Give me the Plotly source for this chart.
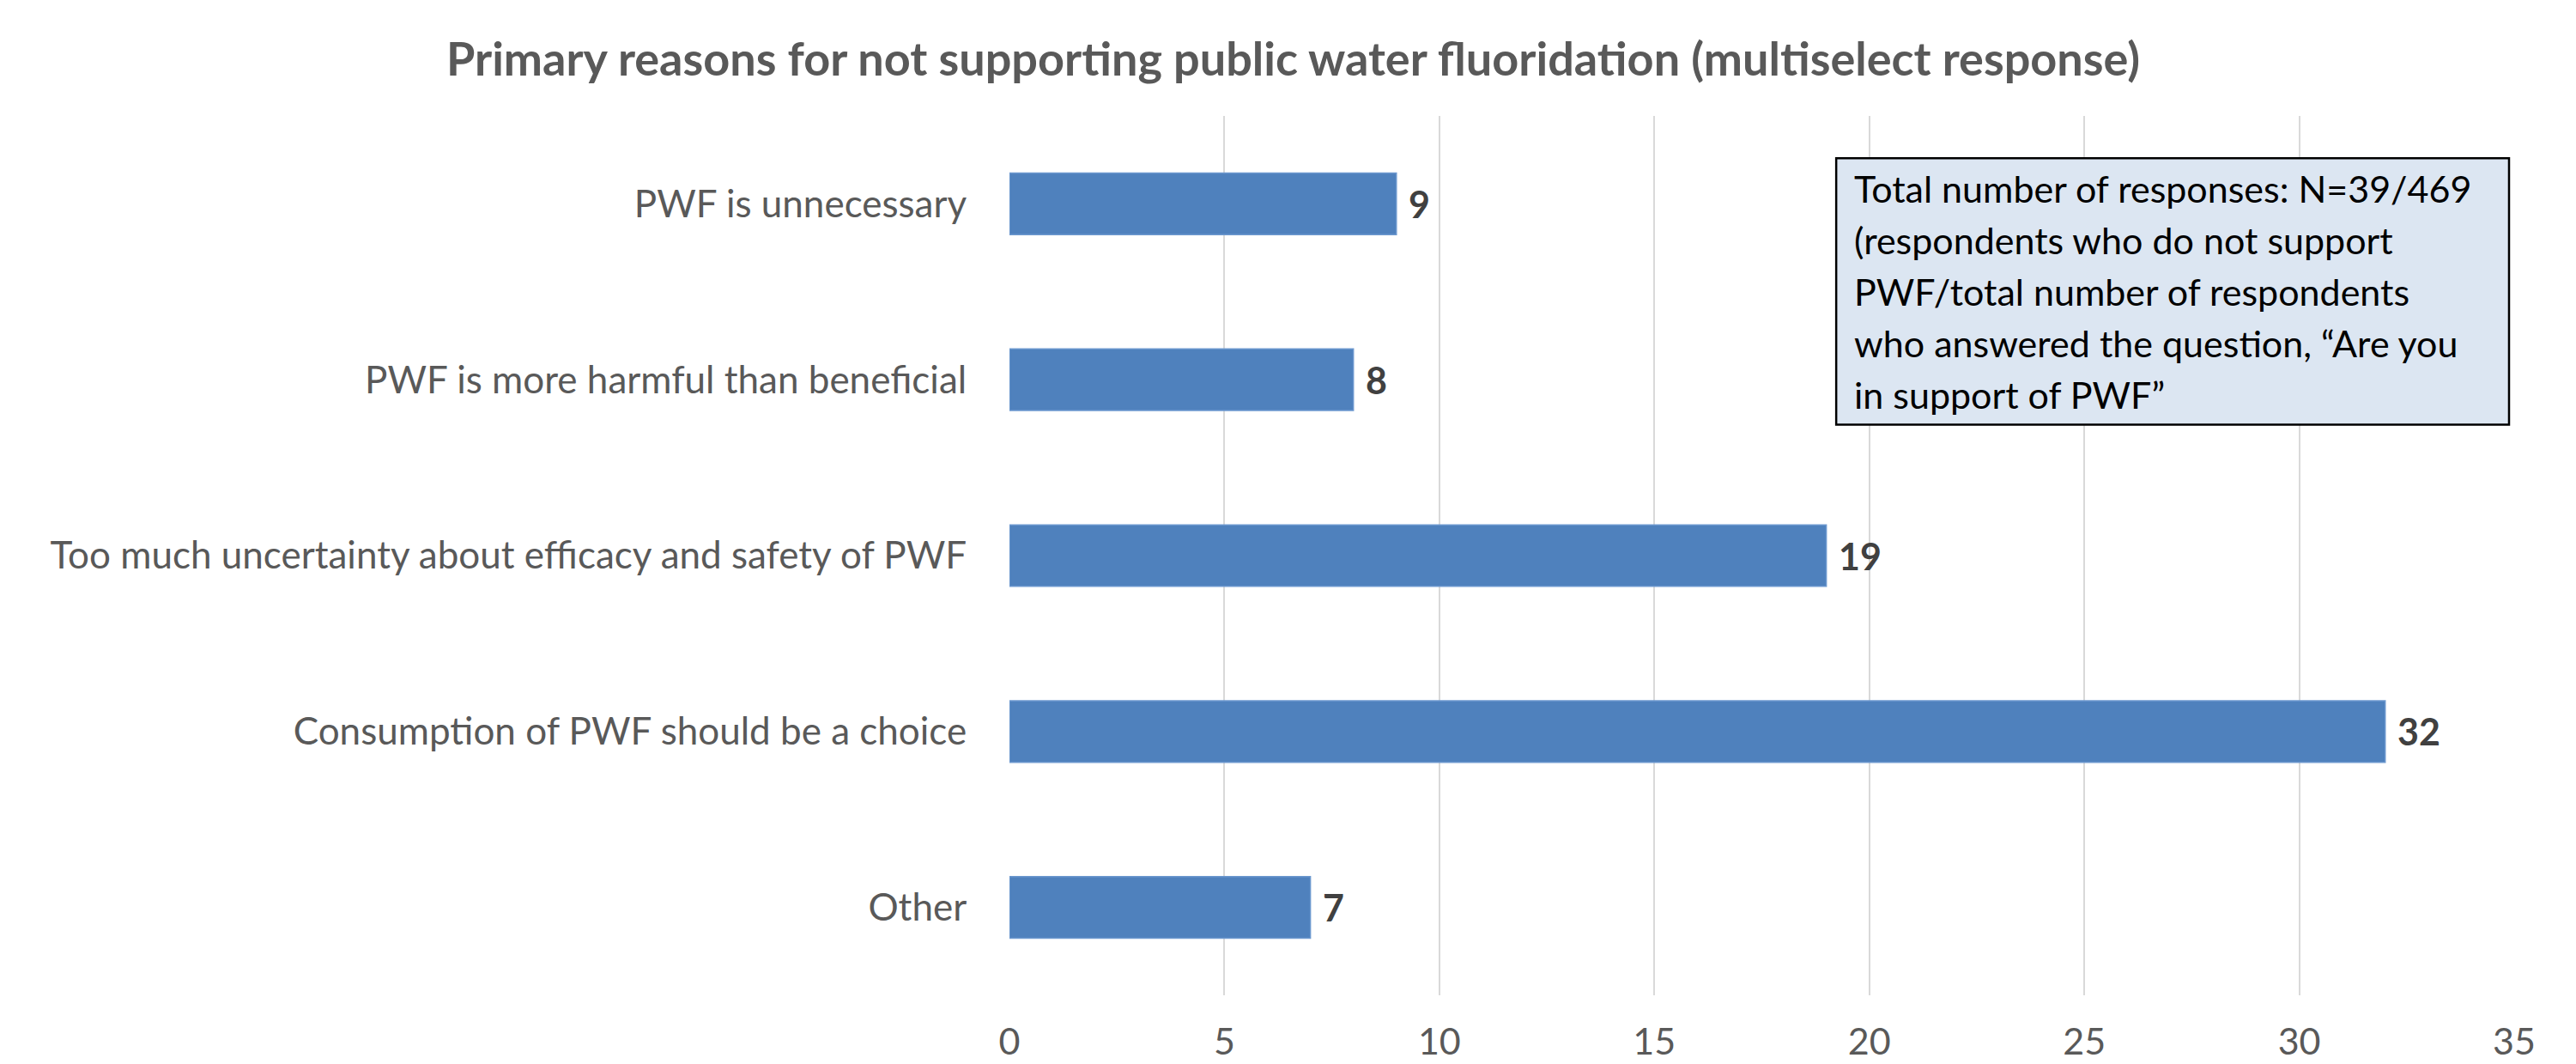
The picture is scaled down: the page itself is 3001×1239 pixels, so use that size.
import plotly.graph_objects as go

# Survey results: reasons for not supporting public water fluoridation
categories = [
    "PWF is unnecessary",
    "PWF is more harmful than beneficial",
    "Too much uncertainty about efficacy and safety of PWF",
    "Consumption of PWF should be a choice",
    "Other",
]
counts = [9, 8, 19, 32, 7]
x_ticks = [0, 5, 10, 15, 20, 25, 30, 35]

title_text = "Primary reasons for not supporting public water fluoridation (multiselect response)"
note_lines = [
    "Total number of responses: N=39/469",
    "(respondents who do not support",
    "PWF/total number of respondents",
    "who answered the question, \u201cAre you",
    "in support of PWF\u201d",
]

FONT = "Lato, 'Open Sans', sans-serif"
GRAY = "#595959"

fig = go.Figure(
    go.Bar(
        x=counts,
        y=categories,
        orientation="h",
        width=0.35,
        marker=dict(color="#4F81BD", line=dict(color="#6C98CF", width=1.5)),
        hoverinfo="x+y",
    )
)

# Bold value labels just past the end of each bar
for cat, val in zip(categories, counts):
    fig.add_annotation(
        x=val, y=cat, xref="x", yref="y",
        text=f"<b>{val}</b>", showarrow=False,
        xanchor="left", yanchor="middle", xshift=12,
        font=dict(family=FONT, size=43, color="#404040"),
    )

# Explanatory note box in the upper right
fig.add_shape(
    type="rect", xref="x", yref="paper",
    x0=19.23, x1=34.88, y0=0.649, y1=0.952,
    fillcolor="#DCE6F2", line=dict(color="#000000", width=2.5),
    layer="above",
)
LINE_STEP = 60  # pixels between note lines
for i, line in enumerate(note_lines):
    fig.add_annotation(
        x=19.6, y=0.917, xref="x", yref="paper",
        text=line, showarrow=False, yshift=-i * LINE_STEP,
        xanchor="left", yanchor="middle", align="left",
        font=dict(family=FONT, size=43, color="#000000"),
    )

fig.update_layout(
    width=3001, height=1239,
    margin=dict(l=1176, r=72, t=135, b=80),
    paper_bgcolor="white", plot_bgcolor="white",
    showlegend=False,
    title=dict(
        text=f"<b>{title_text}</b>",
        x=0.502, xanchor="center", y=0.944, yanchor="middle",
        font=dict(family=FONT, size=54, color=GRAY),
    ),
    bargap=0.65,
)
fig.update_xaxes(
    range=[0, 35], tickvals=x_ticks, automargin=False,
    showgrid=True, gridcolor="#D9D9D9", gridwidth=2,
    zeroline=False, showline=False,
    ticks="outside", ticklen=16, tickcolor="rgba(0,0,0,0)",
    tickfont=dict(family=FONT, size=43, color=GRAY),
)
fig.update_yaxes(
    autorange="reversed", categoryorder="array", categoryarray=categories,
    automargin=False,
    showgrid=False, zeroline=False, showline=False,
    ticks="outside", ticklen=40, tickcolor="rgba(0,0,0,0)",
    tickfont=dict(family=FONT, size=44, color=GRAY),
)

fig.write_html("out.html")
